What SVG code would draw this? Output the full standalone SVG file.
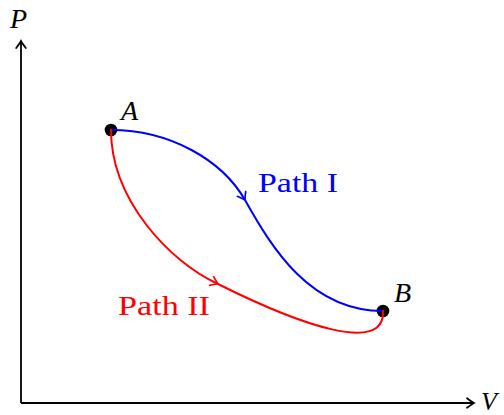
<svg xmlns="http://www.w3.org/2000/svg" width="504" height="415" viewBox="0 0 504 415">
<style>
.lbl{font-family:"Liberation Serif","Times New Roman",serif;font-size:28px}
.it{font-style:italic}
.ax{fill:none;stroke:#000;stroke-width:1.8}
.cv{fill:none;stroke-width:2;stroke-linecap:round}
</style>
<defs>
<marker id="arK" markerUnits="userSpaceOnUse" orient="auto" refX="0" refY="0" markerWidth="20" markerHeight="20" overflow="visible">
<path d="M-7,-4.8 Q-2,-1 0,0 Q-2,1 -7,4.8" fill="none" stroke="#000" stroke-width="1.7" stroke-linecap="round"/>
</marker>
<marker id="arB" markerUnits="userSpaceOnUse" orient="auto" refX="0" refY="0" markerWidth="20" markerHeight="20" overflow="visible">
<path d="M-7,-4.8 Q-2,-1 0,0 Q-2,1 -7,4.8" fill="none" stroke="#0000ff" stroke-width="1.7" stroke-linecap="round"/>
</marker>
<marker id="arR" markerUnits="userSpaceOnUse" orient="auto" refX="0" refY="0" markerWidth="20" markerHeight="20" overflow="visible">
<path d="M-7,-4.8 Q-2,-1 0,0 Q-2,1 -7,4.8" fill="none" stroke="#ff0000" stroke-width="1.7" stroke-linecap="round"/>
</marker>
</defs>
<rect width="504" height="415" fill="#fff"/>
<g id="axes">
<path class="ax" d="M21,403 L21,41" marker-end="url(#arK)"/>
<path class="ax" d="M21,403 L474,403" marker-end="url(#arK)"/>
<text class="lbl it" x="10" y="28">P</text>
<text class="lbl it" x="481" y="410" style="font-size:26px">V</text>
</g>
<g id="A">
<circle cx="111" cy="130" r="6.3" fill="#000"/>
<text class="lbl it" x="121" y="120">A</text>
</g>
<g id="B">
<circle cx="383" cy="311" r="6.3" fill="#000"/>
<text class="lbl it" x="394" y="302">B</text>
</g>
<g id="connectors">
<path class="cv" stroke="#0000ff" d="M111,130 C170,130 222,160 245,200 C272,248 310,311 383,311" marker-mid="url(#arB)"/>
<path class="cv" stroke="#ff0000" d="M111,130 C111,200 170,262 218,284 C300,325 385,355 383,311" marker-mid="url(#arR)"/>
</g>
<g id="labels">
<text class="lbl" x="258" y="192" fill="#0000ff" textLength="80" lengthAdjust="spacingAndGlyphs">Path I</text>
<text class="lbl" x="118" y="315" fill="#ff0000" textLength="92" lengthAdjust="spacingAndGlyphs">Path II</text>
</g>
</svg>
